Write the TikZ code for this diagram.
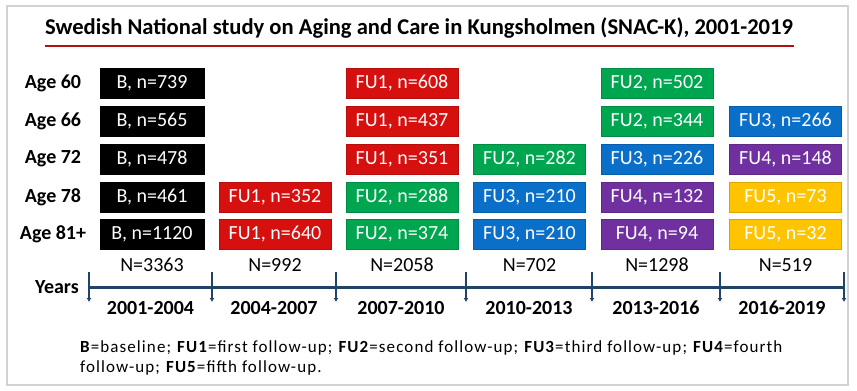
\documentclass[tikz,border=0pt]{standalone}
\usepackage{fontspec}
\setmainfont{Carlito}
\newfontfamily\legendfont[LetterSpace=6.5]{Carlito}
\usetikzlibrary{arrows.meta,positioning,calc}
\definecolor{boxred}{HTML}{D60F0F}
\definecolor{boxgreen}{HTML}{00A550}
\definecolor{boxblue}{HTML}{0A6FC8}
\definecolor{boxpurple}{HTML}{7030A0}
\definecolor{boxyellow}{HTML}{FFC400}
\definecolor{boxblack}{HTML}{000000}
\definecolor{axis}{HTML}{1F4468}
\definecolor{uline}{HTML}{B01010}

\begin{document}
\begin{tikzpicture}[x=1pt,y=-1pt,>=Latex,
  box/.style={minimum width=112pt,minimum height=30pt,inner sep=0pt,text=white,
    font=\fontsize{20}{22}\selectfont},
  agelab/.style={font=\fontsize{20}{22}\selectfont\bfseries},
  nlab/.style={font=\fontsize{20}{22}\selectfont},
  yearlab/.style={font=\fontsize{20}{22}\selectfont\bfseries}]
 \useasboundingbox[fill=white] (0,0) rectangle (857,391);
 \draw[gray!35,line width=1.5pt] (7,6) rectangle (848,385);
 % title
 \node[font=\fontsize{22.6}{25}\selectfont\bfseries] (title) at (419,28)
  {Swedish National study on Aging and Care in Kungsholmen (SNAC-K), 2001-2019};
 \draw[uline,line width=2pt] ($(title.south west)+(3,4)$)--($(title.south east)+(-2,4)$);
 % age rows
 \foreach \r/\y/\a in {1/83/60,2/121/66,3/159/72,4/197/78,5/234/81+}{
  \node[agelab] (age\r) at (53,\y) {Age \a};
 }
 % boxes: column/row/colour/text
 \foreach \c/\x in {1/152,2/275,3/402,4/529.5,5/657,6/785.5}{
  \coordinate (col\c) at (\x,0);
 }
 \foreach \c/\r/\k/\t in {1/1/boxblack/{B, n=739},1/2/boxblack/{B, n=565},
   1/3/boxblack/{B, n=478},1/4/boxblack/{B, n=461},1/5/boxblack/{B, n=1120},
   2/4/boxred/{FU1, n=352},2/5/boxred/{FU1, n=640},
   3/1/boxred/{FU1, n=608},3/2/boxred/{FU1, n=437},3/3/boxred/{FU1, n=351},
   3/4/boxgreen/{FU2, n=288},3/5/boxgreen/{FU2, n=374},
   4/3/boxgreen/{FU2, n=282},4/4/boxblue/{FU3, n=210},4/5/boxblue/{FU3, n=210},
   5/1/boxgreen/{FU2, n=502},5/2/boxgreen/{FU2, n=344},5/3/boxblue/{FU3, n=226},
   5/4/boxpurple/{FU4, n=132},5/5/boxpurple/{FU4, n=94},
   6/2/boxblue/{FU3, n=266},6/3/boxpurple/{FU4, n=148},
   6/4/boxyellow/{FU5, n=73},6/5/boxyellow/{FU5, n=32}}{
  \pgfmathsetmacro\w{\c==1 ? 104 : 112}
  \node[box,fill=\k,draw=\k!85!black,minimum width=\w pt] (b\c\r) at (col\c |- age\r) {\t};
 }
 % totals
 \foreach \c/\n in {1/3363,2/992,3/2058,4/702,5/1298,6/519}{
  \node[nlab] (n\c) at ($(col\c)+(0,265)$) {N=\n};
 }
 % time axis
 \node[agelab] (years) at (57,287) {Years};
 \foreach \i/\x in {0/89,1/212,2/336,3/466,4/592,5/720,6/844}{
  \coordinate (t\i) at (\x,287);
  \draw[axis,line width=2pt,-{Latex[length=4pt,width=5pt]}] ($(t\i)+(0,-15)$)--($(t\i)+(0,15)$);
 }
 \draw[axis,line width=3pt] (t0)--(t6);
 \foreach \a/\b/\p in {0/1/2001-2004,1/2/2004-2007,2/3/2007-2010,3/4/2010-2013,4/5/2013-2016,5/6/2016-2019}{
  \node[yearlab] (y\a) at ($($(t\a)!0.5!(t\b)$)+(0,21)$) {\p};
 }
 % legend
 \node[anchor=base west,align=left,inner sep=0pt,font=\legendfont\fontsize{17}{20}\selectfont] (legend) at (80,372)
  {\textbf{B}=baseline; \textbf{FU1}=first follow-up; \textbf{FU2}=second follow-up; \textbf{FU3}=third follow-up; \textbf{FU4}=fourth\\
   follow-up; \textbf{FU5}=fifth follow-up.};
\end{tikzpicture}
\end{document}
